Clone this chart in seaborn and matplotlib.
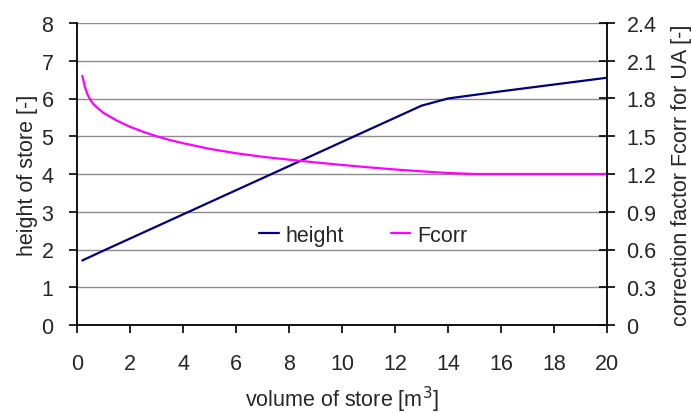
import matplotlib
matplotlib.use("Agg")
import matplotlib.pyplot as plt
import seaborn as sns
import pandas as pd

# Store height [-] against store volume [m3]
volume_h = [0.2, 1, 2, 3, 4, 5, 6, 7, 8, 9, 10, 11, 12, 13, 14, 16, 18, 20]
height = [1.71, 1.97, 2.29, 2.61, 2.93, 3.25, 3.57, 3.89, 4.21, 4.53,
          4.85, 5.17, 5.49, 5.81, 6.00, 6.19, 6.37, 6.55]

# Correction factor Fcorr for UA [-] against store volume [m3]
volume_f = [0.2, 0.3, 0.4, 0.5, 0.6, 0.8, 1.0, 1.5, 2.0, 2.5, 3.0, 3.5, 4.0,
            5.0, 6.0, 7.0, 8.0, 9.0, 10.0, 11.0, 12.0, 13.0, 14.0, 15.0,
            16.0, 17.0, 18.0, 19.0, 20.0]
fcorr = [1.98, 1.89, 1.83, 1.79, 1.76, 1.72, 1.685, 1.625, 1.575, 1.535,
         1.50, 1.47, 1.445, 1.40, 1.365, 1.337, 1.314, 1.292, 1.272, 1.253,
         1.236, 1.221, 1.208, 1.20, 1.20, 1.20, 1.20, 1.20, 1.20]

x_ticks = [0, 2, 4, 6, 8, 10, 12, 14, 16, 18, 20]
left_ticks = [0, 1, 2, 3, 4, 5, 6, 7, 8]
right_ticks = [0, 0.3, 0.6, 0.9, 1.2, 1.5, 1.8, 2.1, 2.4]
right_labels = ["0", "0.3", "0.6", "0.9", "1.2", "1.5", "1.8", "2.1", "2.4"]

sns.set_style("white")
plt.rcParams["font.family"] = ["Liberation Sans", "DejaVu Sans"]
FS = 15.5

df_h = pd.DataFrame({"volume": volume_h, "value": height})
df_f = pd.DataFrame({"volume": volume_f, "value": fcorr})

fig = plt.figure(figsize=(6.91, 4.14), dpi=100)
ax = fig.add_axes([77 / 691, 1 - 326 / 414, 530 / 691, 302 / 414])
ax2 = ax.twinx()

sns.lineplot(data=df_h, x="volume", y="value", ax=ax, color="#000080",
             linewidth=1.6, label="height", legend=False)
sns.lineplot(data=df_f, x="volume", y="value", ax=ax2, color="#FF00FF",
             linewidth=1.6, label="Fcorr", legend=False)

ax.set_xlim(0, 20)
ax.set_ylim(0, 8)
ax2.set_ylim(0, 2.4)
ax.set_xticks(x_ticks)
ax.set_yticks(left_ticks)
ax2.set_yticks(right_ticks)
ax2.set_yticklabels(right_labels)

# horizontal grid only
ax.grid(axis="y", color="#8c8c8c", linewidth=1.0)
ax.set_axisbelow(True)

for a in (ax, ax2):
    for s in a.spines.values():
        s.set_visible(False)
ax.spines["left"].set_visible(True)
ax.spines["bottom"].set_visible(True)
ax2.spines["right"].set_visible(True)
for s in (ax.spines["left"], ax.spines["bottom"], ax2.spines["right"]):
    s.set_color("black")
    s.set_linewidth(1.3)
    s.set_zorder(3)

ax.tick_params(axis="x", direction="out", length=6, width=1.2, color="black",
               labelsize=FS, pad=14, bottom=True)
ax.tick_params(axis="y", direction="out", length=6, width=1.2, color="black",
               labelsize=FS, pad=11, left=True)
ax2.tick_params(axis="y", direction="inout", length=12, width=1.2,
                color="black", labelsize=FS, pad=8, right=True)

ax.set_xlabel("volume of store [m$^3$]", fontsize=FS)
ax.set_ylabel("height of store [-]", fontsize=FS)
ax2.set_ylabel("correction factor Fcorr for UA [-]", fontsize=FS, rotation=90)
ax.xaxis.set_label_coords(0.5, -0.196)
ax.yaxis.set_label_coords(-0.074, 0.5)
ax2.yaxis.set_label_coords(1.12, 0.5)

handles = ax.get_lines()[:1] + ax2.get_lines()[:1]
leg = ax.legend(handles, ["height", "Fcorr"], loc="center",
                bbox_to_anchor=(0.54, 0.298), ncol=2, frameon=False,
                fontsize=FS, handlelength=0.9, handletextpad=0.3,
                columnspacing=2.2)

fig.savefig("out.png", dpi=100)
